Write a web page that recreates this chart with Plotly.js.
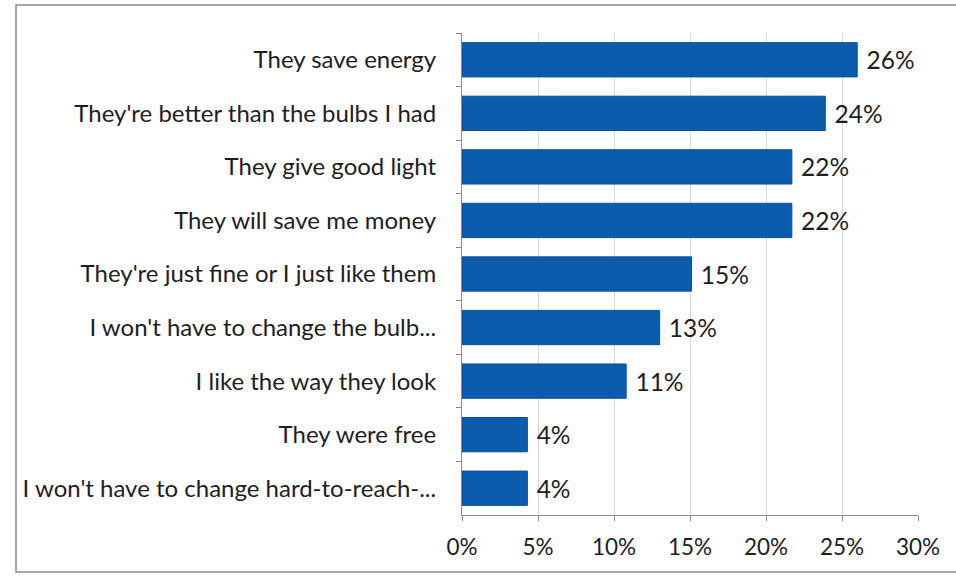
<!DOCTYPE html>
<html>
<head>
<meta charset="utf-8">
<script src="https://cdn.plot.ly/plotly-3.0.1.min.js"></script>
<style>html,body{margin:0;padding:0;background:#fff;}#chart{width:956px;height:577px;}</style>
</head>
<body>
<div id="chart"></div>
<script>
const categories = [
  "They save energy",
  "They're better than the bulbs I had",
  "They give good light",
  "They will save me money",
  "They're just fine or I just like them",
  "I won't have to change the bulb...",
  "I like the way they look",
  "They were free",
  "I won't have to change hard-to-reach-..."
];
const values = [26.0, 23.9, 21.7, 21.7, 15.1, 13.0, 10.8, 4.3, 4.3];
const xTickVals = [0, 5, 10, 15, 20, 25, 30];
const xTickText = ["0%", "5%", "10%", "15%", "20%", "25%", "30%"];

const font = "Lato, 'Open Sans', sans-serif";

const trace = {
  type: "bar",
  orientation: "h",
  y: categories,
  x: values,
  marker: {color: "#0b5cad", line: {color: "#0a4f98", width: 1}},
  texttemplate: "\u00a0%{x:.0f}%",
  textposition: "outside",
  cliponaxis: false,
  textfont: {family: font, size: 24.5, color: "#1e1e1e"},
  hoverinfo: "none"
};

const layout = {
  width: 956, height: 577,
  margin: {l: 462, r: 38, t: 33, b: 62},
  paper_bgcolor: "#fff", plot_bgcolor: "#fff",
  bargap: 0.36,
  showlegend: false,
  font: {family: font, size: 24, color: "#1e1e1e"},
  xaxis: {
    range: [0, 30],
    tickvals: xTickVals, ticktext: xTickText,
    showgrid: true, gridcolor: "#d9d9d9", gridwidth: 1,
    zeroline: false,
    showline: true, linecolor: "#8c8c8c", linewidth: 1,
    ticks: "outside", ticklen: 5, tickcolor: "#8c8c8c",
    ticklabelstandoff: 7,
    tickfont: {family: font, size: 22.5, color: "#1e1e1e"},
    fixedrange: true
  },
  yaxis: {
    categoryorder: "array", categoryarray: categories,
    autorange: "reversed",
    showline: true, linecolor: "#8c8c8c", linewidth: 1,
    ticks: "outside", ticklen: 5, tickcolor: "#8c8c8c",
    tickson: "boundaries",
    ticklabelstandoff: 20,
    showgrid: false,
    tickfont: {family: font, size: 24, color: "#1e1e1e"},
    fixedrange: true
  },
  shapes: [{
    type: "rect", xref: "paper", yref: "paper",
    x0: -446/456, x1: 1.2, y0: -57/482, y1: 1 + 28/482,
    line: {color: "#8a8a8a", width: 1.5}, fillcolor: "rgba(0,0,0,0)"
  }]
};

Plotly.newPlot("chart", [trace], layout, {displayModeBar: false, staticPlot: true});
</script>
</body>
</html>
